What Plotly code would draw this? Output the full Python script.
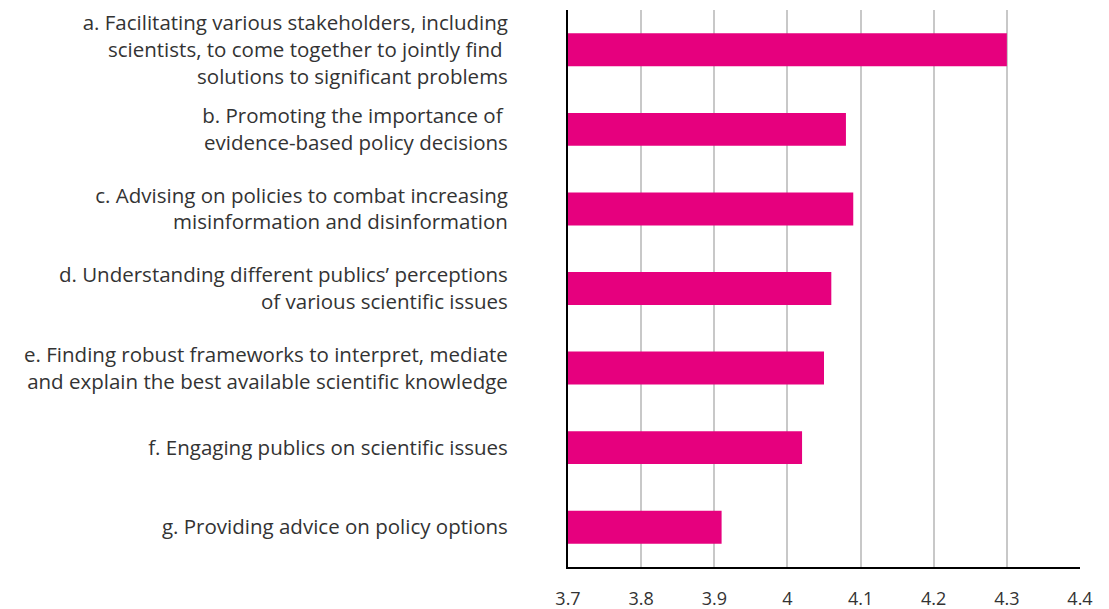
import plotly.graph_objects as go

categories = [
    "a. Facilitating various stakeholders, including<br>scientists, to come together to jointly find <br>solutions to significant problems",
    "b. Promoting the importance of <br>evidence-based policy decisions",
    "c. Advising on policies to combat increasing<br>misinformation and disinformation",
    "d. Understanding different publics’ perceptions<br>of various scientific issues",
    "e. Finding robust frameworks to interpret, mediate<br>and explain the best available scientific knowledge",
    "f. Engaging publics on scientific issues",
    "g. Providing advice on policy options",
]
values = [4.30, 4.08, 4.09, 4.06, 4.05, 4.02, 3.91]
tick_vals = [3.7, 3.8, 3.9, 4.0, 4.1, 4.2, 4.3, 4.4]
tick_text = ["3.7", "3.8", "3.9", "4", "4.1", "4.2", "4.3", "4.4"]

fig = go.Figure(go.Bar(
    y=categories, x=values, orientation="h",
    marker=dict(color="#E6007E", line=dict(width=0)),
))

fig.update_layout(
    width=1109, height=609,
    margin=dict(l=560, r=37, t=2, b=50),
    paper_bgcolor="white", plot_bgcolor="white",
    bargap=0.586,
    showlegend=False,
    font=dict(family="Open Sans", color="#333333", size=20),
)
fig.update_xaxes(
    range=[3.7, 4.4], tickvals=tick_vals, ticktext=tick_text,
    showgrid=True, gridcolor="#c8c8c8", gridwidth=2,
    showline=True, linecolor="black", linewidth=2,
    zeroline=False, ticks="", ticklabelstandoff=14, automargin=False,
    tickfont=dict(size=18, color="#333333"),
)
fig.update_yaxes(
    categoryorder="array", categoryarray=categories[::-1],
    showline=True, linecolor="black", linewidth=2,
    showgrid=False, ticks="", ticklabelstandoff=54, automargin=False,
    tickfont=dict(size=20.5, color="#333333"),
)
fig.write_html("out.html")
